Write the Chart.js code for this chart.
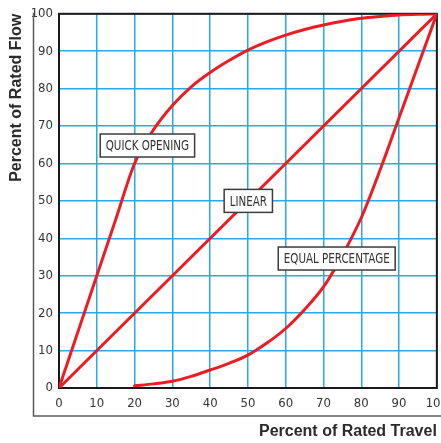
<!DOCTYPE html>
<html>
<head>
<meta charset="utf-8">
<style>
  html, body { margin: 0; padding: 0; background: #fff; overflow: hidden; }
  #wrap { width: 456px; height: 443px; }
</style>
</head>
<body>
<div id="wrap"><canvas id="valveChart" width="456" height="443"></canvas></div>

<script src="https://cdn.jsdelivr.net/npm/chart.js"></script>
<script>
  // valve flow characteristics
  const travelQuick = [0, 5, 10, 15, 20, 25, 30, 35, 40, 45, 50, 55, 60, 65, 70, 75, 80, 85, 90, 95, 100];
  const flowQuick = [0, 15, 30, 45, 60, 69, 75.5, 80.5, 84.3, 87.5, 90.3, 92.5, 94.3, 95.8, 97, 98, 98.8, 99.3, 99.7, 99.9, 100];

  const travelLinear = [0, 100];
  const flowLinear = [0, 100];

  const travelEqual = [20, 25, 30, 35, 40, 45, 50, 55, 60, 65, 70, 75, 80, 85, 90, 95, 100];
  const flowEqual = [0.6, 1.1, 1.8, 3.1, 4.8, 6.6, 8.8, 12, 15.9, 21, 27, 35.5, 45.5, 58.3, 72.2, 86.1, 100];

  const tickValues = [0, 10, 20, 30, 40, 50, 60, 70, 80, 90, 100];

  const curveNames = ['QUICK OPENING', 'LINEAR', 'EQUAL PERCENTAGE'];
  const curveLabelX = [23.4, 50.1, 73.5];
  const curveLabelY = [64.8, 50, 34.6];

  const RED = '#ed1c24';
  const GRID = '#29abe2';
  const NARROW = '"Liberation Sans Narrow", "DejaVu Sans Condensed", sans-serif';

  function pts(xs, ys) {
    return xs.map((x, i) => ({ x: x, y: ys[i] }));
  }

  function curve(label, xs, ys) {
    return {
      label: label,
      data: pts(xs, ys),
      borderColor: RED,
      borderWidth: 3,
      pointRadius: 0,
      fill: false,
      cubicInterpolationMode: 'monotone',
      borderCapStyle: 'round'
    };
  }

  // box around the plot + the grey L frame
  const framePlugin = {
    id: 'frame',
    beforeDatasetsDraw(chart) {
      const { ctx, chartArea: a } = chart;
      ctx.save();
      ctx.strokeStyle = '#1a1a1a';
      ctx.lineWidth = 2;
      ctx.strokeRect(a.left, a.top, a.right - a.left, a.bottom - a.top);
      ctx.strokeStyle = '#5a5a5a';
      ctx.lineWidth = 1.5;
      ctx.beginPath();
      ctx.moveTo(33.5, a.top - 1);
      ctx.lineTo(33.5, 416);
      ctx.lineTo(chart.width, 416);
      ctx.stroke();
      ctx.restore();
    }
  };

  // boxed curve names
  const namePlugin = {
    id: 'names',
    afterDatasetsDraw(chart) {
      const { ctx, scales } = chart;
      const squeeze = 0.82;
      ctx.save();
      ctx.font = '14px ' + NARROW;
      ctx.textBaseline = 'middle';
      ctx.textAlign = 'center';
      curveNames.forEach((name, i) => {
        const cx = scales.x.getPixelForValue(curveLabelX[i]);
        const cy = scales.y.getPixelForValue(curveLabelY[i]);
        const w = ctx.measureText(name).width * squeeze + 11;
        const h = 23;
        ctx.fillStyle = '#fff';
        ctx.fillRect(cx - w / 2, cy - h / 2, w, h);
        ctx.strokeStyle = '#3c3c3c';
        ctx.lineWidth = 1.5;
        ctx.strokeRect(cx - w / 2, cy - h / 2, w, h);
        ctx.save();
        ctx.translate(cx, cy + 1);
        ctx.scale(squeeze, 1);
        ctx.fillStyle = '#333';
        ctx.fillText(name, 0, 0);
        ctx.restore();
      });
      ctx.restore();
    }
  };

  new Chart(document.getElementById('valveChart').getContext('2d'), {
    type: 'line',
    data: {
      datasets: [
        curve('Quick opening', travelQuick, flowQuick),
        curve('Linear', travelLinear, flowLinear),
        curve('Equal percentage', travelEqual, flowEqual)
      ]
    },
    options: {
      responsive: false,
      animation: false,
      events: [],
      layout: { padding: { top: 11, left: 0, right: 0, bottom: 0 } },
      plugins: {
        legend: { display: false },
        tooltip: { enabled: false }
      },
      scales: {
        x: {
          type: 'linear',
          min: 0,
          max: 100,
          afterBuildTicks: (s) => { s.ticks = tickValues.map(v => ({ value: v })); },
          afterFit: (s) => { s.height = 55; },
          grid: { color: GRID, lineWidth: 1.5, drawTicks: false },
          border: { display: false },
          ticks: {
            padding: 8,
            color: '#333',
            font: { family: NARROW, size: 13 },
            maxRotation: 0
          },
          title: {
            display: true,
            text: 'Percent of Rated Travel',
            align: 'end',
            color: '#2b2b2b',
            font: { family: '"Liberation Sans", Arial, sans-serif', size: 16, weight: 'bold' },
            padding: { top: 0, bottom: 2 }
          }
        },
        y: {
          type: 'linear',
          min: 0,
          max: 100,
          afterBuildTicks: (s) => { s.ticks = tickValues.map(v => ({ value: v })); },
          afterFit: (s) => { s.width = 59; },
          grid: { color: GRID, lineWidth: 1.5, drawTicks: false },
          border: { display: false },
          ticks: {
            padding: 6,
            color: '#333',
            font: { family: NARROW, size: 13 }
          },
          title: {
            display: true,
            text: 'Percent of Rated Flow',
            align: 'end',
            color: '#2b2b2b',
            font: { family: '"Liberation Sans", Arial, sans-serif', size: 16, weight: 'bold' },
            padding: { top: 7, bottom: 0 }
          }
        }
      }
    },
    plugins: [framePlugin, namePlugin]
  });
</script>
</body>
</html>
